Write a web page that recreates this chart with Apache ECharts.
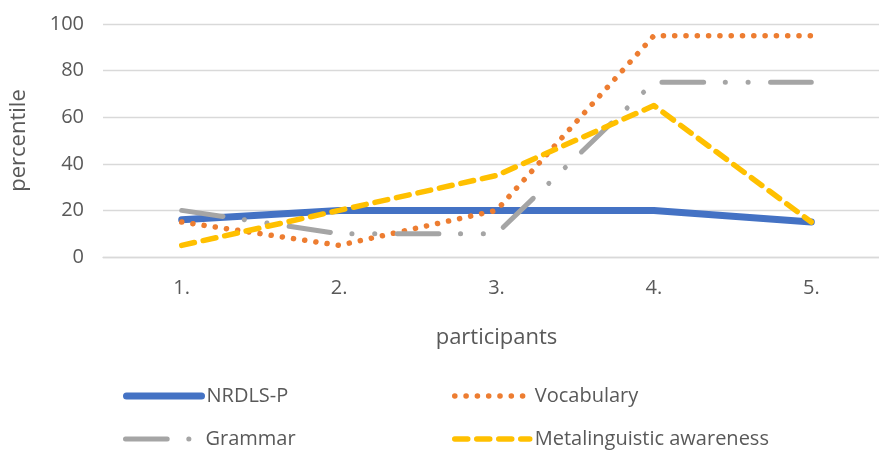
<!DOCTYPE html>
<html>
<head>
<meta charset="utf-8">
<script src="https://cdn.jsdelivr.net/npm/echarts@6/dist/echarts.min.js"></script>
<style>
  html, body { margin: 0; padding: 0; background: #fff; overflow: hidden; }
  #wrap { width: 879px; height: 450px; overflow: hidden; }
  #chart { width: 900px; height: 450px; }
</style>
</head>
<body>
<div id="wrap"><div id="chart"></div></div>
<script>
// Participant labels along the x axis
const participants = ['1.', '2.', '3.', '4.', '5.'];

// Percentile scores per measure
const nrdlsP = [16, 20, 20, 20, 15];
const vocabulary = [15, 5, 20, 95, 95];
const grammar = [20, 10, 10, 75, 75];
const metalinguistic = [5, 20, 35, 65, 15];

const seriesNames = ['NRDLS-P', 'Vocabulary', 'Grammar', 'Metalinguistic awareness'];

const FONT = 'Open Sans';
const TEXT = '#595959';
const GRID = '#D9D9D9';

const chart = echarts.init(document.getElementById('chart'), null, { renderer: 'canvas' });

// One legend block per series, laid out as a 2x2 table under the plot
function legendAt(name, left, top, width) {
  return {
    data: [name],
    left: left,
    top: top,
    itemWidth: 75,
    itemHeight: 14,
    itemGap: 0,
    padding: 0,
    selectedMode: false,
    itemStyle: { opacity: 0 },
    lineStyle: { width: width, cap: 'round', join: 'round' },
    textStyle: { fontFamily: FONT, fontSize: 20, color: TEXT }
  };
}

chart.setOption({
  animation: false,
  backgroundColor: '#ffffff',
  grid: { left: 98, top: 24, width: 792, height: 233, containLabel: false },
  xAxis: {
    type: 'category',
    data: participants,
    boundaryGap: true,
    name: 'participants',
    nameLocation: 'middle',
    nameGap: 70,
    nameMoveOverlap: false,
    nameTextStyle: { fontFamily: FONT, fontSize: 22, color: TEXT },
    axisLine: { show: true, lineStyle: { color: GRID, width: 1.3 } },
    axisTick: { show: false },
    axisLabel: { fontFamily: FONT, fontSize: 20, color: TEXT, margin: 21 },
    splitLine: { show: false }
  },
  yAxis: {
    type: 'value',
    min: 0,
    max: 100,
    interval: 20,
    name: 'percentile',
    nameLocation: 'middle',
    nameGap: 73,
    nameMoveOverlap: false,
    nameRotate: 90,
    nameTextStyle: { fontFamily: FONT, fontSize: 22, color: TEXT },
    axisLine: { show: false },
    axisTick: { show: false },
    axisLabel: { fontFamily: FONT, fontSize: 20, color: TEXT, margin: 19 },
    splitLine: { show: true, lineStyle: { color: GRID, width: 1.3 } }
  },
  legend: [
    legendAt(seriesNames[0], 123, 386, 7),
    legendAt(seriesNames[1], 452, 386, 5.5),
    legendAt(seriesNames[2], 123, 429, 5),
    legendAt(seriesNames[3], 452, 429, 5.5)
  ],
  series: [
    {
      name: seriesNames[0],
      type: 'line',
      data: nrdlsP,
      symbol: 'none',
      color: '#4472C4',
      lineStyle: { color: '#4472C4', width: 7, cap: 'round', join: 'round' },
      z: 2
    },
    {
      name: seriesNames[1],
      type: 'line',
      data: vocabulary,
      symbol: 'none',
      color: '#ED7D31',
      lineStyle: { color: '#ED7D31', width: 5.5, type: [0.1, 11.2], cap: 'round', join: 'round' },
      z: 3
    },
    {
      name: seriesNames[2],
      type: 'line',
      data: grammar,
      symbol: 'none',
      color: '#A5A5A5',
      lineStyle: { color: '#A5A5A5', width: 5, type: [41.7, 21.6, 0.1, 22.7, 0.1, 22.4], cap: 'round', join: 'round' },
      z: 4
    },
    {
      name: seriesNames[3],
      type: 'line',
      data: metalinguistic,
      symbol: 'none',
      color: '#FFC000',
      lineStyle: { color: '#FFC000', width: 5.5, type: [13, 9], cap: 'round', join: 'round' },
      z: 5
    }
  ]
});
</script>
</body>
</html>
